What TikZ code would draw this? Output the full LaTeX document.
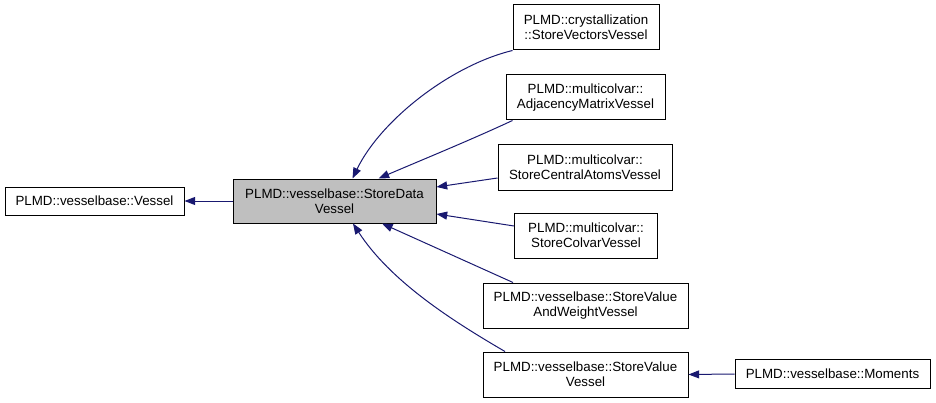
\documentclass[tikz,border=0pt]{standalone}
\usepackage{fontspec}
\setmainfont{Liberation Sans}
\usetikzlibrary{arrows.meta,calc}
\definecolor{edgeblue}{HTML}{191970}
\definecolor{boxgray}{HTML}{BFBFBF}
\begin{document}
\begin{tikzpicture}[x=0.75pt,y=-0.75pt,
  box/.style={draw=black,line width=0.75pt,fill=white,inner sep=0pt,align=center,
    font=\fontsize{10pt}{11.25pt}\selectfont},
  arr/.style={draw=edgeblue,line width=0.75pt,-{Triangle[length=8pt,width=6pt]}}]
\useasboundingbox (0,0) rectangle (936,403);
\node[box,minimum width=179*0.75pt,minimum height=28*0.75pt] (vessel) at (94.5,201) {PLMD::vesselbase::Vessel};
\node[box,fill=boxgray,minimum width=203*0.75pt,minimum height=44*0.75pt] (data) at (334.5,201) {PLMD::vesselbase::StoreData\\Vessel};
\node[box,minimum width=146*0.75pt,minimum height=45*0.75pt] (cryst) at (586,27.5) {PLMD::crystallization\\::StoreVectorsVessel};
\node[box,minimum width=159*0.75pt,minimum height=45*0.75pt] (adj) at (585.5,97.5) {PLMD::multicolvar::\\AdjacencyMatrixVessel};
\node[box,minimum width=174*0.75pt,minimum height=45*0.75pt] (central) at (585,167.5) {PLMD::multicolvar::\\StoreCentralAtomsVessel};
\node[box,minimum width=143*0.75pt,minimum height=45*0.75pt] (colvar) at (586,235.5) {PLMD::multicolvar::\\StoreColvarVessel};
\node[box,minimum width=205*0.75pt,minimum height=45*0.75pt] (svaw) at (585.5,305.5) {PLMD::vesselbase::StoreValue\\AndWeightVessel};
\node[box,minimum width=205*0.75pt,minimum height=45*0.75pt] (sv) at (585.5,374.5) {PLMD::vesselbase::StoreValue\\Vessel};
\node[box,minimum width=195*0.75pt,minimum height=29*0.75pt] (moments) at (832.5,374) {PLMD::vesselbase::Moments};
% edges
\draw[arr] (data.west) -- (vessel.east);
\draw[arr] (moments.west) -- (sv.east);
\draw[arr] (cryst.south west) .. controls ($(cryst.south west)+(-62,15)$) and ($(data.north)+(46,-58)$) .. ($(data.north)+(18,0)$);
\draw[arr] ($(adj.south west)+(7,0)$) .. controls ($(adj.south west)+(-36,20)$) and ($(data.north)+(86,-18)$) .. ($(data.north)+(44,0)$);
\draw[arr] ($(central.west)+(0,10.5)$) -- ($(data.east)+(0,-14)$);
\draw[arr] ($(colvar.west)+(0,-9.5)$) -- ($(data.east)+(0,13)$);
\draw[arr] ($(svaw.north)+(-72.5,0)$) -- ($(data.south)+(47.5,0)$);
\draw[arr] ($(sv.north)+(-80.5,0)$) .. controls ($(sv.north)+(-135.5,-32)$) and ($(data.south)+(55.5,57)$) .. ($(data.south)+(18.5,0)$);
\end{tikzpicture}
\end{document}
